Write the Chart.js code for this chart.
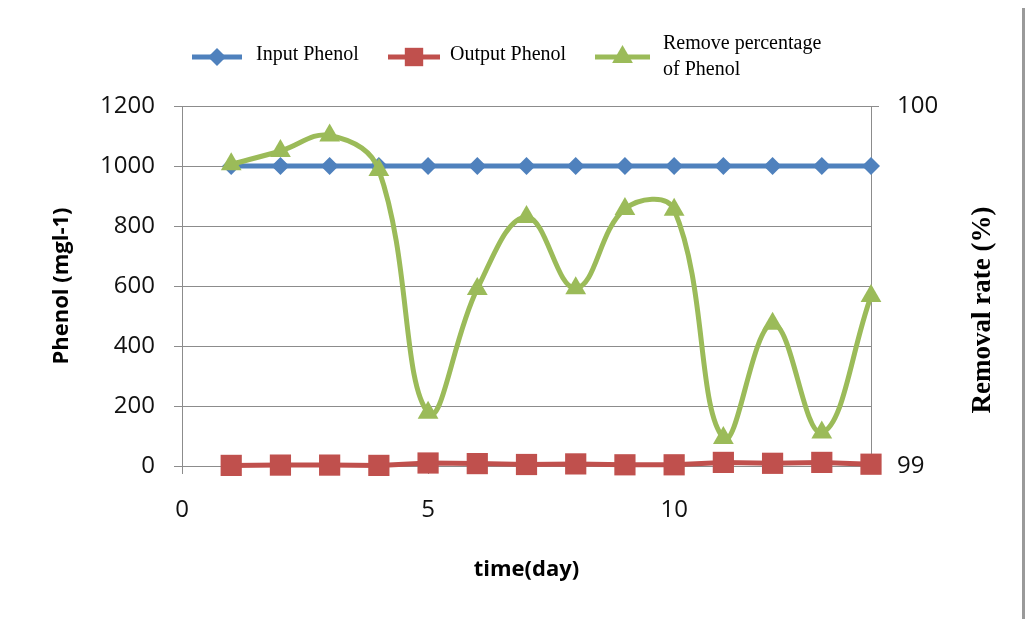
<!DOCTYPE html>
<html>
<head>
<meta charset="utf-8">
<title>Phenol removal</title>
<script src="https://cdn.jsdelivr.net/npm/chart.js"></script>
<style>
  html, body { margin: 0; padding: 0; background: #fff; }
  #wrap { position: relative; width: 1034px; height: 619px; }
</style>
</head>
<body>
<div id="wrap"><canvas id="myChart"></canvas></div>
<script>
// data
const days = [1, 2, 3, 4, 5, 6, 7, 8, 9, 10, 11, 12, 13, 14];
const inputPhenol = [1000, 1000, 1000, 1000, 1000, 1000, 1000, 1000, 1000, 1000, 1000, 1000, 1000, 1000];
const outputPhenol = [2, 3, 3, 2, 10, 8, 5, 7, 4, 4, 12, 9, 12, 6];
const removePercent = [99.838, 99.875, 99.918, 99.822, 99.148, 99.492, 99.692, 99.494, 99.714, 99.712, 99.078, 99.395, 99.093, 99.472];
const xTicks = [0, 5, 10];
const leftTicks = [0, 200, 400, 600, 800, 1000, 1200];
const rightTicks = [99, 100];
const seriesNames = ['Input Phenol', 'Output Phenol', ['Remove percentage', 'of Phenol']];

const BLUE = '#4F81BD', RED = '#C0504D', GREEN = '#9BBB59';
const GRID = '#8c8c8c';
const tickFont = { family: '"Open Sans", sans-serif', size: 24 };
const titleFont = { family: '"Open Sans", sans-serif', size: 22, weight: 'bold' };

const pts = vals => days.map((d, i) => ({ x: d, y: vals[i] }));
const fixTicks = list => scale => { scale.ticks = list.map(v => ({ value: v })); };
const plain = v => String(v);

function marker(ctx, style, x, y, r, color) {
  ctx.save();
  ctx.fillStyle = color;
  ctx.beginPath();
  if (style === 'rectRot') {
    ctx.moveTo(x, y - r); ctx.lineTo(x + r, y); ctx.lineTo(x, y + r); ctx.lineTo(x - r, y);
  } else if (style === 'rect') {
    const s = r * Math.SQRT1_2;
    ctx.rect(x - s, y - s, 2 * s, 2 * s);
  } else {
    ctx.moveTo(x, y - r);
    ctx.lineTo(x + r * 0.866, y + r * 0.5);
    ctx.lineTo(x - r * 0.866, y + r * 0.5);
  }
  ctx.closePath();
  ctx.fill();
  ctx.restore();
}

const extras = {
  id: 'extras',
  afterDraw(chart) {
    const ctx = chart.ctx;
    // legend
    const items = [
      { x0: 192, x1: 242, tx: 256, ds: 0 },
      { x0: 388, x1: 440, tx: 450, ds: 1 },
      { x0: 595, x1: 650, tx: 663, ds: 2 }
    ];
    const ly = 57;
    ctx.save();
    items.forEach(it => {
      const ds = chart.data.datasets[it.ds];
      ctx.strokeStyle = ds.borderColor;
      ctx.lineWidth = 5;
      ctx.beginPath();
      ctx.moveTo(it.x0, ly);
      ctx.lineTo(it.x1, ly);
      ctx.stroke();
      const r = it.ds === 0 ? 9 : it.ds === 1 ? 13 : 12;
      marker(ctx, ds.pointStyle, (it.x0 + it.x1) / 2, ly, r, ds.borderColor);
      ctx.fillStyle = '#000';
      ctx.font = '20px "Liberation Serif", serif';
      ctx.textBaseline = 'middle';
      ctx.textAlign = 'left';
      const lines = Array.isArray(seriesNames[it.ds]) ? seriesNames[it.ds] : [seriesNames[it.ds]];
      if (lines.length === 1) {
        ctx.fillText(lines[0], it.tx, ly - 2);
      } else {
        ctx.fillText(lines[0], it.tx, ly - 13);
        ctx.fillText(lines[1], it.tx, ly + 13);
      }
    });
    // right axis title, read bottom to top
    ctx.translate(983, 310);
    ctx.rotate(-Math.PI / 2);
    ctx.font = 'bold 27px "Liberation Serif", serif';
    ctx.fillStyle = '#000';
    ctx.textAlign = 'center';
    ctx.textBaseline = 'middle';
    ctx.fillText('Removal rate (%)', 0, 0);
    ctx.restore();
    // page border on the right
    ctx.save();
    ctx.fillStyle = '#9a9a9a';
    ctx.fillRect(1022, 8, 3, 611);
    ctx.restore();
  }
};

const ctx = document.getElementById('myChart').getContext('2d');
const myChart = new Chart(ctx, {
  type: 'line',
  data: {
    datasets: [
      {
        label: 'Input Phenol',
        data: pts(inputPhenol),
        yAxisID: 'y',
        borderColor: BLUE,
        backgroundColor: BLUE,
        borderWidth: 5,
        pointStyle: 'rectRot',
        pointRadius: 9,
        pointBorderWidth: 0,
        tension: 0,
        clip: false,
        order: 2
      },
      {
        label: 'Output Phenol',
        data: pts(outputPhenol),
        yAxisID: 'y',
        borderColor: RED,
        backgroundColor: RED,
        borderWidth: 5,
        pointStyle: 'rect',
        pointRadius: 15,
        pointBorderWidth: 0,
        tension: 0,
        clip: false,
        order: 1
      },
      {
        label: 'Remove percentage of Phenol',
        data: pts(removePercent),
        yAxisID: 'y2',
        borderColor: GREEN,
        backgroundColor: GREEN,
        borderWidth: 5,
        pointStyle: 'triangle',
        pointRadius: 12,
        pointBorderWidth: 0,
        tension: 0.4,
        clip: false,
        order: 0
      }
    ]
  },
  options: {
    responsive: true,
    maintainAspectRatio: false,
    animation: false,
    layout: { padding: { top: 106, left: 0, right: 0, bottom: 0 } },
    plugins: { legend: { display: false }, tooltip: { enabled: false } },
    scales: {
      x: {
        type: 'linear',
        min: 0,
        max: 14,
        afterBuildTicks: fixTicks(xTicks),
        afterFit: s => { s.height = 153; },
        grid: { drawOnChartArea: false, tickLength: 8, color: GRID },
        border: { color: GRID },
        ticks: { font: tickFont, color: '#111', padding: 22, maxRotation: 0, callback: plain },
        title: { display: true, text: 'time(day)', font: titleFont, color: '#000', padding: { top: 0, bottom: 36 } }
      },
      y: {
        position: 'left',
        min: 0,
        max: 1200,
        afterBuildTicks: fixTicks(leftTicks),
        afterFit: s => { s.width = 182; },
        grid: { color: GRID, tickLength: 8 },
        border: { color: GRID },
        ticks: { font: tickFont, color: '#111', padding: 19, callback: plain },
        title: { display: true, text: 'Phenol (mgl-1)', font: titleFont, color: '#000', padding: { top: 49, bottom: 0 } }
      },
      y2: {
        position: 'right',
        min: 99,
        max: 100,
        afterBuildTicks: fixTicks(rightTicks),
        afterFit: s => { s.width = 163; },
        grid: { drawOnChartArea: false, color: GRID, tickLength: 8 },
        border: { color: GRID },
        ticks: { font: tickFont, color: '#111', padding: 18, callback: plain }
      }
    }
  },
  plugins: [extras]
});
</script>
</body>
</html>
